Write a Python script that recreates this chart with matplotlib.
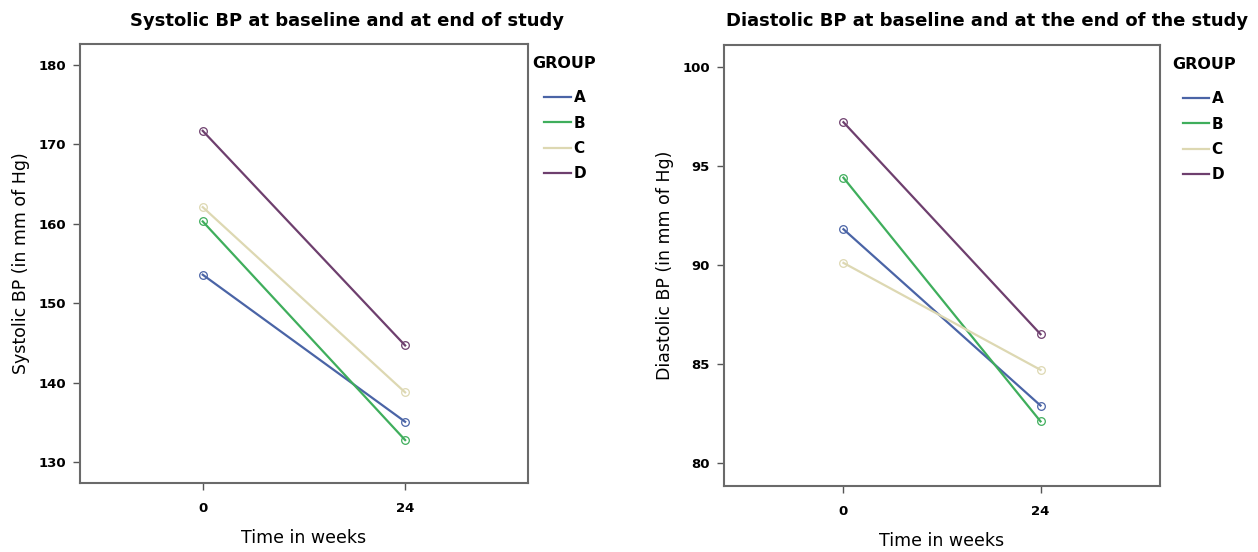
import numpy as np
import matplotlib.pyplot as plt
from matplotlib.lines import Line2D

plt.rcParams['font.family'] = ['DejaVu Sans']

# data
weeks = [0, 24]
groups = ['A', 'B', 'C', 'D']
colors = ['#4a64a6', '#3fae5c', '#ddd8b2', '#6e3f6e']
systolic = {'A': [153.6, 135.1], 'B': [160.3, 132.8], 'C': [162.1, 138.8], 'D': [171.7, 144.7]}
diastolic = {'A': [91.8, 82.9], 'B': [94.4, 82.1], 'C': [90.1, 84.7], 'D': [97.2, 86.5]}
sys_ticks = [130, 140, 150, 160, 170, 180]
dia_ticks = [80, 85, 90, 95, 100]

fig = plt.figure(figsize=(12.58, 5.52), dpi=100)
ax1 = fig.add_axes([0.0636, 0.125, 0.356, 0.795])
ax2 = fig.add_axes([0.5755, 0.1196, 0.3466, 0.799])

def draw(ax, data, ticks, ylim, title, title_x, ylabel, grp_x, leg_x):
    for g, c in zip(groups, colors):
        ax.plot(weeks, data[g], color=c, lw=1.6, marker='o', ms=5.5,
                markerfacecolor='none', markeredgewidth=0.9, label=g)
    ax.set_xlim(-14.55, 38.55)
    ax.set_ylim(*ylim)
    ax.set_xticks(weeks)
    ax.set_yticks(ticks)
    ax.tick_params(axis='both', labelsize=9.5, length=5, width=1, color='#555555', pad=5)
    ax.tick_params(axis='x', pad=9)
    for lab in ax.get_xticklabels() + ax.get_yticklabels():
        lab.set_fontweight('bold')
    for s in ax.spines.values():
        s.set_color('#6a6a6a')
        s.set_linewidth(1.5)
    fig.text(title_x, 0.962, title, fontsize=13, fontweight='bold', ha='center', va='center')
    ax.set_xlabel('Time in weeks', fontsize=12.5, labelpad=10)
    ax.set_ylabel(ylabel, fontsize=12.5, labelpad=6)
    # legend
    ax.text(grp_x, 0.955, 'GROUP', transform=ax.transAxes, fontsize=11.5,
            fontweight='bold', ha='left', va='center')
    handles = [Line2D([0], [0], color=c, lw=1.6) for c in colors]
    ax.legend(handles, groups, loc='upper left', bbox_to_anchor=(leg_x, 0.895),
              frameon=False, borderaxespad=0, borderpad=0, handlelength=1.75,
              handletextpad=0.15, labelspacing=0.68, prop={'weight': 'bold', 'size': 11})

draw(ax1, systolic, sys_ticks, (127.4, 182.6),
     'Systolic BP at baseline and at end of study', 347 / 1258,
     'Systolic BP (in mm of Hg)', 1.01, 1.037)
draw(ax2, diastolic, dia_ticks, (78.84, 101.1),
     'Diastolic BP at baseline and at the end of the study', 987 / 1258,
     'Diastolic BP (in mm of Hg)', 1.027, 1.052)

fig.savefig('out.png', dpi=100)
